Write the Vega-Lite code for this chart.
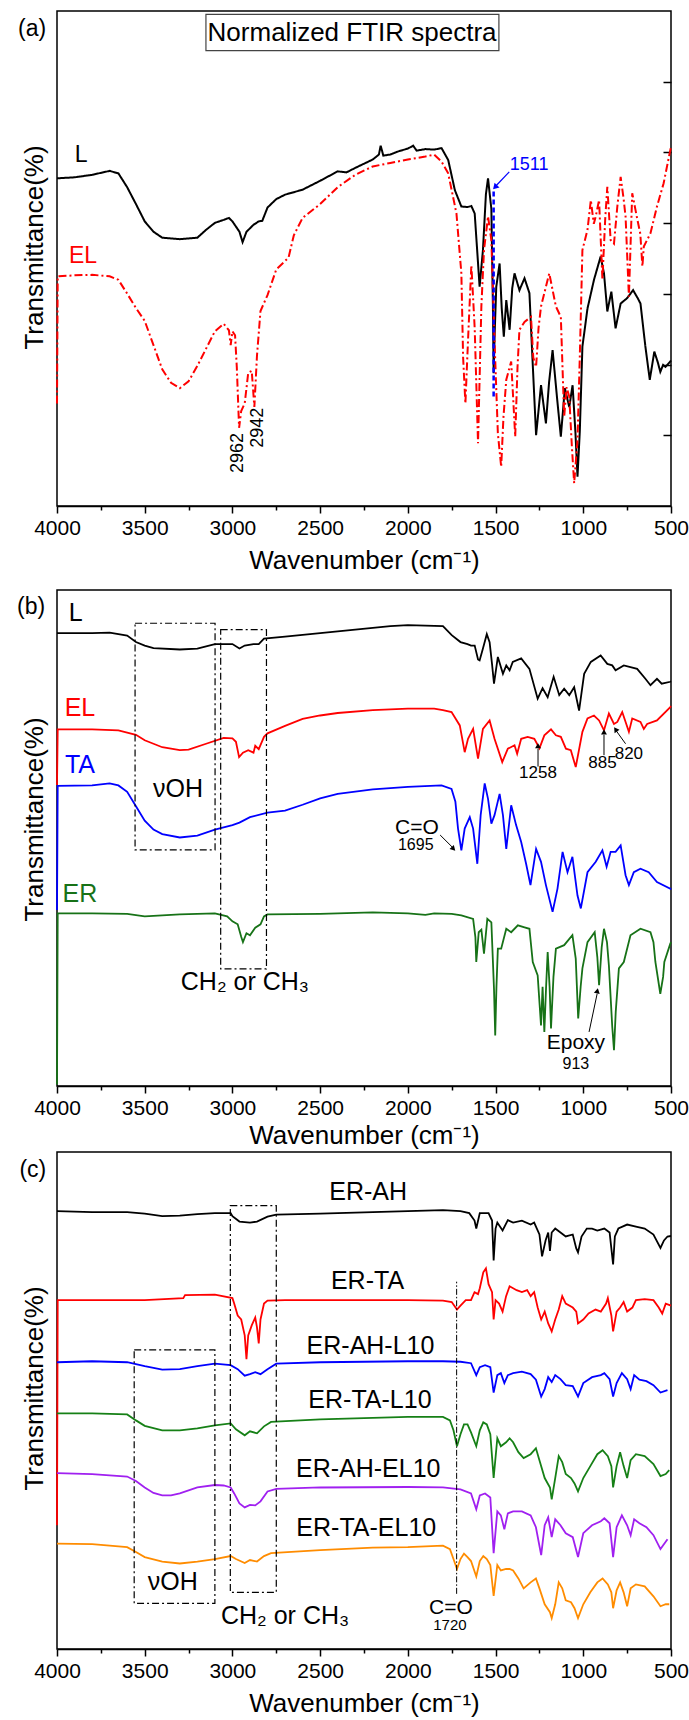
{
"$schema": "https://vega.github.io/schema/vega-lite/v6.json",
"padding": {"left": 16, "top": 10, "right": 0, "bottom": 0},
"background": "white",
"config": {
  "font": "Liberation Sans",
  "axis": {"labelFont": "Liberation Sans", "titleFont": "Liberation Sans", "labelFontSize": 21, "titleFontSize": 26, "titleFontWeight": "normal", "labelColor": "black", "titleColor": "black", "domainColor": "black", "domainWidth": 1.5, "tickColor": "black", "tickWidth": 1.5, "grid": false},
  "view": {"stroke": "black", "strokeWidth": 1.5},
  "text": {"font": "Liberation Sans"}
},
"datasets": {
 "a": [
  {"s":"L","w":4000,"t":66.2},{"s":"L","w":3900,"t":66.4},{"s":"L","w":3800,"t":66.9},{"s":"L","w":3700,"t":67.7},{"s":"L","w":3650,"t":67.2},{"s":"L","w":3600,"t":64.4},{"s":"L","w":3550,"t":61},{"s":"L","w":3500,"t":57.5},{"s":"L","w":3450,"t":55.4},{"s":"L","w":3400,"t":54.2},{"s":"L","w":3300,"t":53.9},{"s":"L","w":3200,"t":54.2},{"s":"L","w":3150,"t":55.8},{"s":"L","w":3100,"t":57.2},{"s":"L","w":3050,"t":57.8},{"s":"L","w":3020,"t":58.2},{"s":"L","w":3000,"t":57.5},{"s":"L","w":2960,"t":55.4},{"s":"L","w":2942,"t":53.3},{"s":"L","w":2920,"t":55.4},{"s":"L","w":2880,"t":56.8},{"s":"L","w":2850,"t":57.5},{"s":"L","w":2830,"t":57.6},{"s":"L","w":2800,"t":60.3},{"s":"L","w":2750,"t":62},{"s":"L","w":2700,"t":62.9},{"s":"L","w":2600,"t":63.9},{"s":"L","w":2500,"t":65.7},{"s":"L","w":2400,"t":67.6},{"s":"L","w":2350,"t":67.4},{"s":"L","w":2300,"t":68.3},{"s":"L","w":2200,"t":70},{"s":"L","w":2165,"t":71},{"s":"L","w":2155,"t":72.8},{"s":"L","w":2140,"t":70.8},{"s":"L","w":2100,"t":71},{"s":"L","w":2050,"t":71.7},{"s":"L","w":2000,"t":72.2},{"s":"L","w":1970,"t":72.8},{"s":"L","w":1950,"t":71.8},{"s":"L","w":1900,"t":72.1},{"s":"L","w":1850,"t":72},{"s":"L","w":1808,"t":72.3},{"s":"L","w":1770,"t":69.9},{"s":"L","w":1732,"t":63.8},{"s":"L","w":1695,"t":60.5},{"s":"L","w":1660,"t":60.4},{"s":"L","w":1638,"t":60.6},{"s":"L","w":1619,"t":59.1},{"s":"L","w":1591,"t":44.3},{"s":"L","w":1572,"t":51.7},{"s":"L","w":1555,"t":63},{"s":"L","w":1543,"t":66.2},{"s":"L","w":1524,"t":60},{"s":"L","w":1515,"t":40},{"s":"L","w":1511,"t":26.8},{"s":"L","w":1505,"t":35},{"s":"L","w":1496,"t":44.3},{"s":"L","w":1477,"t":49},{"s":"L","w":1465,"t":40},{"s":"L","w":1453,"t":34.2},{"s":"L","w":1439,"t":41.6},{"s":"L","w":1420,"t":35.6},{"s":"L","w":1405,"t":44},{"s":"L","w":1392,"t":47},{"s":"L","w":1364,"t":43.6},{"s":"L","w":1335,"t":46},{"s":"L","w":1307,"t":43},{"s":"L","w":1290,"t":30},{"s":"L","w":1269,"t":14.3},{"s":"L","w":1241,"t":24.4},{"s":"L","w":1213,"t":16.7},{"s":"L","w":1195,"t":25},{"s":"L","w":1175,"t":31.5},{"s":"L","w":1150,"t":22},{"s":"L","w":1128,"t":14},{"s":"L","w":1105,"t":23.8},{"s":"L","w":1080,"t":20},{"s":"L","w":1061,"t":24.4},{"s":"L","w":1045,"t":15},{"s":"L","w":1033,"t":5.9},{"s":"L","w":1020,"t":15},{"s":"L","w":1005,"t":32.2},{"s":"L","w":976,"t":39.9},{"s":"L","w":939,"t":45.7},{"s":"L","w":901,"t":50.4},{"s":"L","w":882,"t":47},{"s":"L","w":863,"t":39.3},{"s":"L","w":840,"t":43.3},{"s":"L","w":816,"t":35.9},{"s":"L","w":787,"t":40.9},{"s":"L","w":750,"t":42},{"s":"L","w":716,"t":43.6},{"s":"L","w":690,"t":42},{"s":"L","w":674,"t":40.9},{"s":"L","w":646,"t":32.2},{"s":"L","w":621,"t":25.5},{"s":"L","w":605,"t":29},{"s":"L","w":595,"t":31.2},{"s":"L","w":575,"t":29},{"s":"L","w":561,"t":27.1},{"s":"L","w":545,"t":28.5},{"s":"L","w":532,"t":28.1},{"s":"L","w":504,"t":29.2},{"s":"L","w":500,"t":29.4},
  {"s":"EL","w":4000,"t":20.7},{"s":"EL","w":3996,"t":46.4},{"s":"EL","w":3900,"t":46.6},{"s":"EL","w":3800,"t":46.7},{"s":"EL","w":3700,"t":46.4},{"s":"EL","w":3650,"t":45.7},{"s":"EL","w":3600,"t":42.9},{"s":"EL","w":3550,"t":40},{"s":"EL","w":3500,"t":37.4},{"s":"EL","w":3450,"t":32.5},{"s":"EL","w":3400,"t":27.6},{"s":"EL","w":3350,"t":24.9},{"s":"EL","w":3300,"t":23.8},{"s":"EL","w":3250,"t":25.2},{"s":"EL","w":3200,"t":28.3},{"s":"EL","w":3150,"t":31.8},{"s":"EL","w":3100,"t":35.3},{"s":"EL","w":3050,"t":36.8},{"s":"EL","w":3020,"t":35.5},{"s":"EL","w":3010,"t":32.5},{"s":"EL","w":3000,"t":35.3},{"s":"EL","w":2985,"t":34.5},{"s":"EL","w":2975,"t":28},{"s":"EL","w":2962,"t":15.8},{"s":"EL","w":2950,"t":19.2},{"s":"EL","w":2930,"t":20.7},{"s":"EL","w":2910,"t":26.9},{"s":"EL","w":2890,"t":27.3},{"s":"EL","w":2875,"t":20},{"s":"EL","w":2860,"t":30.4},{"s":"EL","w":2840,"t":39.4},{"s":"EL","w":2800,"t":42.6},{"s":"EL","w":2750,"t":47.8},{"s":"EL","w":2700,"t":49.5},{"s":"EL","w":2680,"t":50.2},{"s":"EL","w":2650,"t":54.7},{"s":"EL","w":2600,"t":58.2},{"s":"EL","w":2500,"t":61},{"s":"EL","w":2400,"t":64.4},{"s":"EL","w":2300,"t":66.9},{"s":"EL","w":2200,"t":68.6},{"s":"EL","w":2100,"t":69.3},{"s":"EL","w":2000,"t":70},{"s":"EL","w":1900,"t":70.6},{"s":"EL","w":1850,"t":71},{"s":"EL","w":1808,"t":69.6},{"s":"EL","w":1770,"t":67.2},{"s":"EL","w":1723,"t":59.1},{"s":"EL","w":1695,"t":47},{"s":"EL","w":1685,"t":30},{"s":"EL","w":1672,"t":20.7},{"s":"EL","w":1657,"t":33.5},{"s":"EL","w":1638,"t":48.7},{"s":"EL","w":1619,"t":35.9},{"s":"EL","w":1600,"t":12.7},{"s":"EL","w":1581,"t":40.3},{"s":"EL","w":1566,"t":51.7},{"s":"EL","w":1543,"t":58.5},{"s":"EL","w":1524,"t":53.7},{"s":"EL","w":1506,"t":33.5},{"s":"EL","w":1487,"t":14.7},{"s":"EL","w":1468,"t":7.9},{"s":"EL","w":1455,"t":18},{"s":"EL","w":1439,"t":25.5},{"s":"EL","w":1411,"t":29.2},{"s":"EL","w":1400,"t":22},{"s":"EL","w":1388,"t":14},{"s":"EL","w":1375,"t":28},{"s":"EL","w":1364,"t":35.6},{"s":"EL","w":1335,"t":37.2},{"s":"EL","w":1298,"t":38.2},{"s":"EL","w":1285,"t":30},{"s":"EL","w":1269,"t":28.1},{"s":"EL","w":1255,"t":36},{"s":"EL","w":1241,"t":40.3},{"s":"EL","w":1194,"t":47},{"s":"EL","w":1156,"t":40.3},{"s":"EL","w":1128,"t":38.2},{"s":"EL","w":1109,"t":18},{"s":"EL","w":1095,"t":24},{"s":"EL","w":1080,"t":22.1},{"s":"EL","w":1065,"t":12},{"s":"EL","w":1052,"t":4.6},{"s":"EL","w":1033,"t":13.3},{"s":"EL","w":1020,"t":30},{"s":"EL","w":1005,"t":51.7},{"s":"EL","w":976,"t":55.8},{"s":"EL","w":957,"t":61.8},{"s":"EL","w":940,"t":57},{"s":"EL","w":929,"t":58.5},{"s":"EL","w":910,"t":61.8},{"s":"EL","w":891,"t":45.7},{"s":"EL","w":875,"t":58},{"s":"EL","w":863,"t":64.5},{"s":"EL","w":844,"t":53.7},{"s":"EL","w":825,"t":53},{"s":"EL","w":806,"t":60.5},{"s":"EL","w":787,"t":66.5},{"s":"EL","w":770,"t":62},{"s":"EL","w":759,"t":58.5},{"s":"EL","w":740,"t":42.3},{"s":"EL","w":721,"t":63.2},{"s":"EL","w":693,"t":58.1},{"s":"EL","w":675,"t":55},{"s":"EL","w":663,"t":48.4},{"s":"EL","w":655,"t":52.4},{"s":"EL","w":617,"t":55.1},{"s":"EL","w":580,"t":60.5},{"s":"EL","w":542,"t":65.2},{"s":"EL","w":504,"t":71.9},{"s":"EL","w":500,"t":72.5}
 ],
 "b": [
  {"s":"L","w":4000,"t":91.3},{"s":"L","w":3800,"t":91.3},{"s":"L","w":3700,"t":91.4},{"s":"L","w":3600,"t":90.8},{"s":"L","w":3550,"t":89.5},{"s":"L","w":3500,"t":88.8},{"s":"L","w":3450,"t":88.3},{"s":"L","w":3300,"t":88},{"s":"L","w":3200,"t":88.2},{"s":"L","w":3100,"t":89.1},{"s":"L","w":3000,"t":89.1},{"s":"L","w":2960,"t":88.2},{"s":"L","w":2930,"t":88.8},{"s":"L","w":2880,"t":89.1},{"s":"L","w":2850,"t":89.1},{"s":"L","w":2820,"t":90.2},{"s":"L","w":2700,"t":90.6},{"s":"L","w":2500,"t":91.3},{"s":"L","w":2300,"t":92},{"s":"L","w":2100,"t":92.7},{"s":"L","w":2000,"t":92.9},{"s":"L","w":1800,"t":92.7},{"s":"L","w":1750,"t":90.9},{"s":"L","w":1700,"t":89.5},{"s":"L","w":1660,"t":89.1},{"s":"L","w":1640,"t":88.8},{"s":"L","w":1619,"t":88.8},{"s":"L","w":1600,"t":86},{"s":"L","w":1591,"t":85.8},{"s":"L","w":1572,"t":88.2},{"s":"L","w":1550,"t":91.1},{"s":"L","w":1534,"t":89.5},{"s":"L","w":1520,"t":85},{"s":"L","w":1509,"t":81.1},{"s":"L","w":1487,"t":86.5},{"s":"L","w":1458,"t":83.1},{"s":"L","w":1439,"t":84.8},{"s":"L","w":1420,"t":83.8},{"s":"L","w":1402,"t":85.5},{"s":"L","w":1354,"t":86.2},{"s":"L","w":1307,"t":84.1},{"s":"L","w":1260,"t":78.1},{"s":"L","w":1232,"t":80.2},{"s":"L","w":1203,"t":78.4},{"s":"L","w":1169,"t":82.5},{"s":"L","w":1137,"t":78.8},{"s":"L","w":1109,"t":80.1},{"s":"L","w":1080,"t":78.8},{"s":"L","w":1052,"t":80.4},{"s":"L","w":1024,"t":75.7},{"s":"L","w":995,"t":83.1},{"s":"L","w":957,"t":85.5},{"s":"L","w":901,"t":86.8},{"s":"L","w":863,"t":85.1},{"s":"L","w":835,"t":84.8},{"s":"L","w":816,"t":83.8},{"s":"L","w":769,"t":84.8},{"s":"L","w":693,"t":84.1},{"s":"L","w":646,"t":82.1},{"s":"L","w":617,"t":80.8},{"s":"L","w":580,"t":82.1},{"s":"L","w":553,"t":81.1},{"s":"L","w":504,"t":81.5},{"s":"L","w":500,"t":81.6},
  {"s":"EL","w":4000,"t":60.7},{"s":"EL","w":3996,"t":71.9},{"s":"EL","w":3800,"t":71.9},{"s":"EL","w":3650,"t":71.7},{"s":"EL","w":3550,"t":70.8},{"s":"EL","w":3500,"t":69.7},{"s":"EL","w":3400,"t":68.3},{"s":"EL","w":3300,"t":67.7},{"s":"EL","w":3250,"t":67.8},{"s":"EL","w":3150,"t":69},{"s":"EL","w":3050,"t":70.2},{"s":"EL","w":3000,"t":70.1},{"s":"EL","w":2980,"t":69.4},{"s":"EL","w":2962,"t":66.3},{"s":"EL","w":2940,"t":67.2},{"s":"EL","w":2910,"t":67.7},{"s":"EL","w":2880,"t":67.2},{"s":"EL","w":2870,"t":68.6},{"s":"EL","w":2850,"t":67.9},{"s":"EL","w":2820,"t":70.4},{"s":"EL","w":2800,"t":71.1},{"s":"EL","w":2700,"t":72.6},{"s":"EL","w":2600,"t":74},{"s":"EL","w":2500,"t":74.7},{"s":"EL","w":2400,"t":75.2},{"s":"EL","w":2200,"t":75.8},{"s":"EL","w":2000,"t":76.1},{"s":"EL","w":1850,"t":76.1},{"s":"EL","w":1800,"t":75.8},{"s":"EL","w":1751,"t":75.4},{"s":"EL","w":1704,"t":72.7},{"s":"EL","w":1676,"t":67.3},{"s":"EL","w":1657,"t":70},{"s":"EL","w":1628,"t":72},{"s":"EL","w":1600,"t":66},{"s":"EL","w":1572,"t":72},{"s":"EL","w":1534,"t":73.7},{"s":"EL","w":1506,"t":70},{"s":"EL","w":1462,"t":65.3},{"s":"EL","w":1430,"t":68},{"s":"EL","w":1392,"t":68.7},{"s":"EL","w":1377,"t":67},{"s":"EL","w":1354,"t":70},{"s":"EL","w":1317,"t":70.4},{"s":"EL","w":1279,"t":70},{"s":"EL","w":1250,"t":68.1},{"s":"EL","w":1222,"t":70.7},{"s":"EL","w":1184,"t":71.9},{"s":"EL","w":1156,"t":70.7},{"s":"EL","w":1128,"t":70.4},{"s":"EL","w":1099,"t":68},{"s":"EL","w":1071,"t":67.7},{"s":"EL","w":1043,"t":64.3},{"s":"EL","w":1005,"t":71.4},{"s":"EL","w":976,"t":74.1},{"s":"EL","w":939,"t":74.7},{"s":"EL","w":910,"t":73.7},{"s":"EL","w":882,"t":71.7},{"s":"EL","w":854,"t":75.1},{"s":"EL","w":825,"t":73},{"s":"EL","w":806,"t":73.4},{"s":"EL","w":778,"t":75.4},{"s":"EL","w":740,"t":71.4},{"s":"EL","w":721,"t":74.1},{"s":"EL","w":674,"t":73.4},{"s":"EL","w":655,"t":72},{"s":"EL","w":636,"t":73},{"s":"EL","w":580,"t":73.7},{"s":"EL","w":504,"t":76.4},{"s":"EL","w":500,"t":76.6},
  {"s":"TA","w":4000,"t":35.5},{"s":"TA","w":3996,"t":60.5},{"s":"TA","w":3800,"t":60.6},{"s":"TA","w":3700,"t":61},{"s":"TA","w":3650,"t":60.6},{"s":"TA","w":3600,"t":59.3},{"s":"TA","w":3550,"t":56.4},{"s":"TA","w":3500,"t":53.5},{"s":"TA","w":3450,"t":51.7},{"s":"TA","w":3400,"t":50.8},{"s":"TA","w":3300,"t":50.1},{"s":"TA","w":3200,"t":50.5},{"s":"TA","w":3100,"t":51.7},{"s":"TA","w":3000,"t":52.6},{"s":"TA","w":2960,"t":53.1},{"s":"TA","w":2900,"t":54.2},{"s":"TA","w":2800,"t":55.1},{"s":"TA","w":2700,"t":55.5},{"s":"TA","w":2600,"t":56.7},{"s":"TA","w":2500,"t":58},{"s":"TA","w":2400,"t":58.9},{"s":"TA","w":2200,"t":59.8},{"s":"TA","w":2000,"t":60.3},{"s":"TA","w":1808,"t":60.6},{"s":"TA","w":1751,"t":59.9},{"s":"TA","w":1729,"t":57.3},{"s":"TA","w":1714,"t":51.9},{"s":"TA","w":1695,"t":47.5},{"s":"TA","w":1676,"t":51.9},{"s":"TA","w":1647,"t":54.2},{"s":"TA","w":1628,"t":51.9},{"s":"TA","w":1604,"t":44.8},{"s":"TA","w":1585,"t":54.6},{"s":"TA","w":1562,"t":61},{"s":"TA","w":1543,"t":57.9},{"s":"TA","w":1524,"t":52.9},{"s":"TA","w":1506,"t":54.6},{"s":"TA","w":1477,"t":58.9},{"s":"TA","w":1458,"t":54.6},{"s":"TA","w":1439,"t":47.8},{"s":"TA","w":1411,"t":56.6},{"s":"TA","w":1383,"t":52.6},{"s":"TA","w":1354,"t":49.2},{"s":"TA","w":1326,"t":44.8},{"s":"TA","w":1301,"t":40.5},{"s":"TA","w":1269,"t":47.8},{"s":"TA","w":1241,"t":45.2},{"s":"TA","w":1213,"t":40.5},{"s":"TA","w":1175,"t":35.1},{"s":"TA","w":1147,"t":39.8},{"s":"TA","w":1118,"t":47.2},{"s":"TA","w":1090,"t":43.1},{"s":"TA","w":1062,"t":46.2},{"s":"TA","w":1033,"t":38.4},{"s":"TA","w":1014,"t":35.8},{"s":"TA","w":976,"t":43.1},{"s":"TA","w":929,"t":45.2},{"s":"TA","w":891,"t":47.5},{"s":"TA","w":867,"t":44.2},{"s":"TA","w":844,"t":47.2},{"s":"TA","w":816,"t":47.2},{"s":"TA","w":787,"t":48.5},{"s":"TA","w":759,"t":42.5},{"s":"TA","w":740,"t":40.5},{"s":"TA","w":712,"t":43.1},{"s":"TA","w":674,"t":43.8},{"s":"TA","w":627,"t":43.1},{"s":"TA","w":580,"t":41.1},{"s":"TA","w":504,"t":39.8},{"s":"TA","w":500,"t":39.6},
  {"s":"ER","w":4000,"t":0.3},{"s":"ER","w":3996,"t":34.8},{"s":"ER","w":3800,"t":34.8},{"s":"ER","w":3600,"t":34.7},{"s":"ER","w":3500,"t":34.2},{"s":"ER","w":3400,"t":34.4},{"s":"ER","w":3300,"t":34.6},{"s":"ER","w":3100,"t":34.8},{"s":"ER","w":3030,"t":34.2},{"s":"ER","w":3000,"t":33.2},{"s":"ER","w":2970,"t":32.6},{"s":"ER","w":2950,"t":30.1},{"s":"ER","w":2940,"t":29},{"s":"ER","w":2920,"t":30.8},{"s":"ER","w":2900,"t":30.4},{"s":"ER","w":2870,"t":31.9},{"s":"ER","w":2840,"t":32.6},{"s":"ER","w":2820,"t":34.2},{"s":"ER","w":2800,"t":34.6},{"s":"ER","w":2500,"t":34.7},{"s":"ER","w":2200,"t":35},{"s":"ER","w":2000,"t":34.8},{"s":"ER","w":1900,"t":34.5},{"s":"ER","w":1850,"t":34.8},{"s":"ER","w":1750,"t":34.7},{"s":"ER","w":1695,"t":34.4},{"s":"ER","w":1628,"t":33.7},{"s":"ER","w":1615,"t":30},{"s":"ER","w":1610,"t":25},{"s":"ER","w":1596,"t":31},{"s":"ER","w":1581,"t":31.5},{"s":"ER","w":1566,"t":26.7},{"s":"ER","w":1547,"t":33.7},{"s":"ER","w":1524,"t":33},{"s":"ER","w":1509,"t":19.6},{"s":"ER","w":1502,"t":10.2},{"s":"ER","w":1495,"t":20},{"s":"ER","w":1487,"t":27.7},{"s":"ER","w":1468,"t":27.7},{"s":"ER","w":1439,"t":31.7},{"s":"ER","w":1411,"t":31},{"s":"ER","w":1373,"t":32.4},{"s":"ER","w":1335,"t":32},{"s":"ER","w":1307,"t":31.7},{"s":"ER","w":1288,"t":25},{"s":"ER","w":1260,"t":22.3},{"s":"ER","w":1241,"t":12.2},{"s":"ER","w":1232,"t":20},{"s":"ER","w":1222,"t":10.9},{"s":"ER","w":1212,"t":20},{"s":"ER","w":1203,"t":27},{"s":"ER","w":1192,"t":20},{"s":"ER","w":1184,"t":11.6},{"s":"ER","w":1170,"t":22},{"s":"ER","w":1156,"t":27.7},{"s":"ER","w":1109,"t":28.4},{"s":"ER","w":1062,"t":30.4},{"s":"ER","w":1043,"t":25.7},{"s":"ER","w":1029,"t":13.6},{"s":"ER","w":1015,"t":20},{"s":"ER","w":1005,"t":23.7},{"s":"ER","w":976,"t":29},{"s":"ER","w":935,"t":31},{"s":"ER","w":920,"t":26},{"s":"ER","w":910,"t":20.3},{"s":"ER","w":895,"t":28},{"s":"ER","w":882,"t":31.7},{"s":"ER","w":865,"t":29},{"s":"ER","w":854,"t":24.3},{"s":"ER","w":835,"t":12},{"s":"ER","w":825,"t":7.2},{"s":"ER","w":815,"t":15},{"s":"ER","w":797,"t":23.7},{"s":"ER","w":769,"t":25},{"s":"ER","w":731,"t":30.4},{"s":"ER","w":674,"t":31.7},{"s":"ER","w":617,"t":31},{"s":"ER","w":600,"t":29},{"s":"ER","w":589,"t":25},{"s":"ER","w":561,"t":18.6},{"s":"ER","w":545,"t":22},{"s":"ER","w":538,"t":25},{"s":"ER","w":504,"t":28.7},{"s":"ER","w":500,"t":29}
 ],
 "c": [
  {"s":"ER-AH","w":4000,"t":88.1},{"s":"ER-AH","w":3800,"t":87.9},{"s":"ER-AH","w":3600,"t":87.9},{"s":"ER-AH","w":3500,"t":87.6},{"s":"ER-AH","w":3400,"t":87.1},{"s":"ER-AH","w":3300,"t":87.2},{"s":"ER-AH","w":3200,"t":87.5},{"s":"ER-AH","w":3100,"t":87.7},{"s":"ER-AH","w":3010,"t":87.7},{"s":"ER-AH","w":3000,"t":87.1},{"s":"ER-AH","w":2960,"t":86},{"s":"ER-AH","w":2900,"t":85.8},{"s":"ER-AH","w":2860,"t":86},{"s":"ER-AH","w":2800,"t":87},{"s":"ER-AH","w":2750,"t":87.4},{"s":"ER-AH","w":2500,"t":87.6},{"s":"ER-AH","w":2200,"t":87.9},{"s":"ER-AH","w":2000,"t":88.1},{"s":"ER-AH","w":1800,"t":88.3},{"s":"ER-AH","w":1700,"t":88.1},{"s":"ER-AH","w":1650,"t":87.7},{"s":"ER-AH","w":1620,"t":86.2},{"s":"ER-AH","w":1610,"t":84.6},{"s":"ER-AH","w":1590,"t":87.7},{"s":"ER-AH","w":1540,"t":87.7},{"s":"ER-AH","w":1520,"t":86.2},{"s":"ER-AH","w":1511,"t":78.2},{"s":"ER-AH","w":1500,"t":84.6},{"s":"ER-AH","w":1490,"t":85.8},{"s":"ER-AH","w":1460,"t":84.2},{"s":"ER-AH","w":1430,"t":86.3},{"s":"ER-AH","w":1400,"t":85.8},{"s":"ER-AH","w":1350,"t":86.2},{"s":"ER-AH","w":1300,"t":85.4},{"s":"ER-AH","w":1280,"t":85.8},{"s":"ER-AH","w":1250,"t":83.4},{"s":"ER-AH","w":1235,"t":79},{"s":"ER-AH","w":1215,"t":82.2},{"s":"ER-AH","w":1200,"t":83.8},{"s":"ER-AH","w":1190,"t":80.1},{"s":"ER-AH","w":1180,"t":83.8},{"s":"ER-AH","w":1160,"t":84.6},{"s":"ER-AH","w":1130,"t":83.8},{"s":"ER-AH","w":1100,"t":83},{"s":"ER-AH","w":1060,"t":83.4},{"s":"ER-AH","w":1040,"t":80.6},{"s":"ER-AH","w":1030,"t":79.8},{"s":"ER-AH","w":1010,"t":83},{"s":"ER-AH","w":980,"t":84.6},{"s":"ER-AH","w":950,"t":84.6},{"s":"ER-AH","w":920,"t":84.2},{"s":"ER-AH","w":880,"t":84.6},{"s":"ER-AH","w":850,"t":83.8},{"s":"ER-AH","w":830,"t":77.4},{"s":"ER-AH","w":820,"t":83},{"s":"ER-AH","w":800,"t":84.6},{"s":"ER-AH","w":750,"t":85.4},{"s":"ER-AH","w":700,"t":85},{"s":"ER-AH","w":650,"t":84.6},{"s":"ER-AH","w":600,"t":83.4},{"s":"ER-AH","w":560,"t":80.7},{"s":"ER-AH","w":540,"t":82.2},{"s":"ER-AH","w":520,"t":83},{"s":"ER-AH","w":500,"t":83.1},
  {"s":"ER-TA","w":4000,"t":24.9},{"s":"ER-TA","w":3996,"t":70.2},{"s":"ER-TA","w":3800,"t":70.2},{"s":"ER-TA","w":3600,"t":70.2},{"s":"ER-TA","w":3500,"t":70.2},{"s":"ER-TA","w":3280,"t":70.6},{"s":"ER-TA","w":3270,"t":71.2},{"s":"ER-TA","w":3100,"t":71.3},{"s":"ER-TA","w":3000,"t":70.6},{"s":"ER-TA","w":2990,"t":69.5},{"s":"ER-TA","w":2970,"t":67.1},{"s":"ER-TA","w":2950,"t":66.3},{"s":"ER-TA","w":2930,"t":63.1},{"s":"ER-TA","w":2920,"t":58.3},{"s":"ER-TA","w":2910,"t":63.1},{"s":"ER-TA","w":2890,"t":65.1},{"s":"ER-TA","w":2870,"t":66.7},{"s":"ER-TA","w":2860,"t":64.7},{"s":"ER-TA","w":2850,"t":61.5},{"s":"ER-TA","w":2840,"t":66.3},{"s":"ER-TA","w":2820,"t":69.5},{"s":"ER-TA","w":2800,"t":70.1},{"s":"ER-TA","w":2700,"t":70.2},{"s":"ER-TA","w":2500,"t":70.2},{"s":"ER-TA","w":2000,"t":70.2},{"s":"ER-TA","w":1800,"t":70.1},{"s":"ER-TA","w":1750,"t":69.8},{"s":"ER-TA","w":1720,"t":68.3},{"s":"ER-TA","w":1700,"t":69.1},{"s":"ER-TA","w":1670,"t":70.2},{"s":"ER-TA","w":1640,"t":70.2},{"s":"ER-TA","w":1620,"t":71.8},{"s":"ER-TA","w":1600,"t":71.4},{"s":"ER-TA","w":1590,"t":72.6},{"s":"ER-TA","w":1570,"t":75.8},{"s":"ER-TA","w":1555,"t":76.6},{"s":"ER-TA","w":1540,"t":73.4},{"s":"ER-TA","w":1520,"t":71.8},{"s":"ER-TA","w":1511,"t":66.3},{"s":"ER-TA","w":1500,"t":70.2},{"s":"ER-TA","w":1480,"t":69.5},{"s":"ER-TA","w":1460,"t":67.9},{"s":"ER-TA","w":1440,"t":71},{"s":"ER-TA","w":1420,"t":73},{"s":"ER-TA","w":1380,"t":72.2},{"s":"ER-TA","w":1350,"t":71.8},{"s":"ER-TA","w":1320,"t":72.2},{"s":"ER-TA","w":1300,"t":71},{"s":"ER-TA","w":1280,"t":71.8},{"s":"ER-TA","w":1260,"t":68.7},{"s":"ER-TA","w":1240,"t":66.3},{"s":"ER-TA","w":1220,"t":67.9},{"s":"ER-TA","w":1200,"t":65.5},{"s":"ER-TA","w":1180,"t":63.9},{"s":"ER-TA","w":1160,"t":66.3},{"s":"ER-TA","w":1140,"t":68.3},{"s":"ER-TA","w":1120,"t":71},{"s":"ER-TA","w":1100,"t":69.5},{"s":"ER-TA","w":1060,"t":68.7},{"s":"ER-TA","w":1040,"t":67.9},{"s":"ER-TA","w":1030,"t":65.5},{"s":"ER-TA","w":1000,"t":66.3},{"s":"ER-TA","w":970,"t":67.5},{"s":"ER-TA","w":930,"t":68.3},{"s":"ER-TA","w":900,"t":67.9},{"s":"ER-TA","w":870,"t":69.5},{"s":"ER-TA","w":860,"t":70.6},{"s":"ER-TA","w":840,"t":67.1},{"s":"ER-TA","w":830,"t":63.9},{"s":"ER-TA","w":810,"t":67.9},{"s":"ER-TA","w":790,"t":68.7},{"s":"ER-TA","w":770,"t":69.8},{"s":"ER-TA","w":750,"t":67.9},{"s":"ER-TA","w":720,"t":68.7},{"s":"ER-TA","w":700,"t":70.2},{"s":"ER-TA","w":650,"t":70.4},{"s":"ER-TA","w":600,"t":70.2},{"s":"ER-TA","w":570,"t":68.7},{"s":"ER-TA","w":550,"t":67.5},{"s":"ER-TA","w":530,"t":69.5},{"s":"ER-TA","w":500,"t":69.1},
  {"s":"ER-AH-L10","w":4000,"t":57.7},{"s":"ER-AH-L10","w":3800,"t":57.9},{"s":"ER-AH-L10","w":3600,"t":57.7},{"s":"ER-AH-L10","w":3500,"t":56.9},{"s":"ER-AH-L10","w":3400,"t":56.2},{"s":"ER-AH-L10","w":3300,"t":56.3},{"s":"ER-AH-L10","w":3200,"t":56.9},{"s":"ER-AH-L10","w":3100,"t":57.4},{"s":"ER-AH-L10","w":3010,"t":57.1},{"s":"ER-AH-L10","w":2970,"t":56.3},{"s":"ER-AH-L10","w":2930,"t":55},{"s":"ER-AH-L10","w":2900,"t":55.3},{"s":"ER-AH-L10","w":2870,"t":55.7},{"s":"ER-AH-L10","w":2840,"t":55.3},{"s":"ER-AH-L10","w":2800,"t":56.3},{"s":"ER-AH-L10","w":2750,"t":57.4},{"s":"ER-AH-L10","w":2500,"t":57.7},{"s":"ER-AH-L10","w":2000,"t":57.9},{"s":"ER-AH-L10","w":1800,"t":57.9},{"s":"ER-AH-L10","w":1700,"t":57.8},{"s":"ER-AH-L10","w":1640,"t":57.5},{"s":"ER-AH-L10","w":1610,"t":55.1},{"s":"ER-AH-L10","w":1590,"t":56.7},{"s":"ER-AH-L10","w":1560,"t":57.1},{"s":"ER-AH-L10","w":1530,"t":56.7},{"s":"ER-AH-L10","w":1511,"t":51.6},{"s":"ER-AH-L10","w":1490,"t":55.1},{"s":"ER-AH-L10","w":1470,"t":55.5},{"s":"ER-AH-L10","w":1450,"t":53.5},{"s":"ER-AH-L10","w":1430,"t":55.1},{"s":"ER-AH-L10","w":1400,"t":55.5},{"s":"ER-AH-L10","w":1350,"t":55.8},{"s":"ER-AH-L10","w":1300,"t":55.3},{"s":"ER-AH-L10","w":1270,"t":54.2},{"s":"ER-AH-L10","w":1240,"t":50.8},{"s":"ER-AH-L10","w":1220,"t":52.3},{"s":"ER-AH-L10","w":1200,"t":54.7},{"s":"ER-AH-L10","w":1180,"t":53.7},{"s":"ER-AH-L10","w":1160,"t":55.1},{"s":"ER-AH-L10","w":1130,"t":54.3},{"s":"ER-AH-L10","w":1100,"t":53.1},{"s":"ER-AH-L10","w":1060,"t":52.9},{"s":"ER-AH-L10","w":1030,"t":50.8},{"s":"ER-AH-L10","w":1000,"t":53.5},{"s":"ER-AH-L10","w":950,"t":54.7},{"s":"ER-AH-L10","w":900,"t":55.1},{"s":"ER-AH-L10","w":880,"t":55.5},{"s":"ER-AH-L10","w":850,"t":54.3},{"s":"ER-AH-L10","w":830,"t":50.8},{"s":"ER-AH-L10","w":810,"t":53.5},{"s":"ER-AH-L10","w":780,"t":55.5},{"s":"ER-AH-L10","w":750,"t":54.3},{"s":"ER-AH-L10","w":730,"t":52.3},{"s":"ER-AH-L10","w":710,"t":55.1},{"s":"ER-AH-L10","w":680,"t":54.2},{"s":"ER-AH-L10","w":640,"t":53.9},{"s":"ER-AH-L10","w":600,"t":53.1},{"s":"ER-AH-L10","w":560,"t":51.6},{"s":"ER-AH-L10","w":520,"t":52.1},
  {"s":"ER-TA-L10","w":4000,"t":47.4},{"s":"ER-TA-L10","w":3800,"t":47.4},{"s":"ER-TA-L10","w":3600,"t":47.2},{"s":"ER-TA-L10","w":3550,"t":46},{"s":"ER-TA-L10","w":3500,"t":44.9},{"s":"ER-TA-L10","w":3400,"t":44},{"s":"ER-TA-L10","w":3300,"t":44},{"s":"ER-TA-L10","w":3200,"t":44.4},{"s":"ER-TA-L10","w":3100,"t":45},{"s":"ER-TA-L10","w":3010,"t":45.4},{"s":"ER-TA-L10","w":2980,"t":44.2},{"s":"ER-TA-L10","w":2930,"t":43},{"s":"ER-TA-L10","w":2900,"t":43.8},{"s":"ER-TA-L10","w":2860,"t":43.4},{"s":"ER-TA-L10","w":2820,"t":44.8},{"s":"ER-TA-L10","w":2780,"t":45.7},{"s":"ER-TA-L10","w":2500,"t":46.2},{"s":"ER-TA-L10","w":2200,"t":46.5},{"s":"ER-TA-L10","w":2000,"t":46.7},{"s":"ER-TA-L10","w":1800,"t":46.7},{"s":"ER-TA-L10","w":1760,"t":46},{"s":"ER-TA-L10","w":1740,"t":44},{"s":"ER-TA-L10","w":1720,"t":40.8},{"s":"ER-TA-L10","w":1700,"t":43.2},{"s":"ER-TA-L10","w":1680,"t":45.2},{"s":"ER-TA-L10","w":1660,"t":45.2},{"s":"ER-TA-L10","w":1640,"t":43.6},{"s":"ER-TA-L10","w":1610,"t":40.8},{"s":"ER-TA-L10","w":1590,"t":44},{"s":"ER-TA-L10","w":1570,"t":45.6},{"s":"ER-TA-L10","w":1550,"t":45.2},{"s":"ER-TA-L10","w":1530,"t":43.2},{"s":"ER-TA-L10","w":1511,"t":34.4},{"s":"ER-TA-L10","w":1490,"t":42.4},{"s":"ER-TA-L10","w":1470,"t":40.8},{"s":"ER-TA-L10","w":1440,"t":41.6},{"s":"ER-TA-L10","w":1420,"t":42.4},{"s":"ER-TA-L10","w":1400,"t":41.6},{"s":"ER-TA-L10","w":1370,"t":39.6},{"s":"ER-TA-L10","w":1340,"t":38.4},{"s":"ER-TA-L10","w":1300,"t":39.2},{"s":"ER-TA-L10","w":1270,"t":40.4},{"s":"ER-TA-L10","w":1250,"t":38},{"s":"ER-TA-L10","w":1220,"t":34.4},{"s":"ER-TA-L10","w":1190,"t":32.5},{"s":"ER-TA-L10","w":1180,"t":30.1},{"s":"ER-TA-L10","w":1160,"t":34.4},{"s":"ER-TA-L10","w":1140,"t":38.8},{"s":"ER-TA-L10","w":1120,"t":37.6},{"s":"ER-TA-L10","w":1100,"t":35.2},{"s":"ER-TA-L10","w":1070,"t":34.4},{"s":"ER-TA-L10","w":1050,"t":33.3},{"s":"ER-TA-L10","w":1030,"t":31.7},{"s":"ER-TA-L10","w":1000,"t":34.4},{"s":"ER-TA-L10","w":960,"t":36.8},{"s":"ER-TA-L10","w":920,"t":39.2},{"s":"ER-TA-L10","w":890,"t":40},{"s":"ER-TA-L10","w":860,"t":38.8},{"s":"ER-TA-L10","w":840,"t":36.8},{"s":"ER-TA-L10","w":830,"t":32.5},{"s":"ER-TA-L10","w":810,"t":36.8},{"s":"ER-TA-L10","w":790,"t":39.6},{"s":"ER-TA-L10","w":770,"t":36.8},{"s":"ER-TA-L10","w":750,"t":34.4},{"s":"ER-TA-L10","w":730,"t":38},{"s":"ER-TA-L10","w":700,"t":39.2},{"s":"ER-TA-L10","w":650,"t":38.8},{"s":"ER-TA-L10","w":600,"t":37.2},{"s":"ER-TA-L10","w":560,"t":34.8},{"s":"ER-TA-L10","w":530,"t":35.2},{"s":"ER-TA-L10","w":510,"t":36},
  {"s":"ER-AH-EL10","w":4000,"t":35.4},{"s":"ER-AH-EL10","w":3800,"t":35.2},{"s":"ER-AH-EL10","w":3600,"t":34.7},{"s":"ER-AH-EL10","w":3550,"t":33.8},{"s":"ER-AH-EL10","w":3500,"t":32.5},{"s":"ER-AH-EL10","w":3450,"t":31.4},{"s":"ER-AH-EL10","w":3400,"t":30.9},{"s":"ER-AH-EL10","w":3350,"t":30.9},{"s":"ER-AH-EL10","w":3300,"t":31.3},{"s":"ER-AH-EL10","w":3200,"t":32.5},{"s":"ER-AH-EL10","w":3100,"t":33},{"s":"ER-AH-EL10","w":3050,"t":32.9},{"s":"ER-AH-EL10","w":3010,"t":32.5},{"s":"ER-AH-EL10","w":2990,"t":31.3},{"s":"ER-AH-EL10","w":2960,"t":29.3},{"s":"ER-AH-EL10","w":2930,"t":28.5},{"s":"ER-AH-EL10","w":2900,"t":29},{"s":"ER-AH-EL10","w":2870,"t":28.9},{"s":"ER-AH-EL10","w":2840,"t":29.7},{"s":"ER-AH-EL10","w":2800,"t":31.7},{"s":"ER-AH-EL10","w":2750,"t":32.2},{"s":"ER-AH-EL10","w":2500,"t":32.5},{"s":"ER-AH-EL10","w":2000,"t":32.6},{"s":"ER-AH-EL10","w":1800,"t":32.5},{"s":"ER-AH-EL10","w":1700,"t":32.1},{"s":"ER-AH-EL10","w":1640,"t":31.3},{"s":"ER-AH-EL10","w":1610,"t":28.1},{"s":"ER-AH-EL10","w":1590,"t":30.9},{"s":"ER-AH-EL10","w":1560,"t":31.3},{"s":"ER-AH-EL10","w":1530,"t":30.5},{"s":"ER-AH-EL10","w":1511,"t":19.3},{"s":"ER-AH-EL10","w":1490,"t":27.7},{"s":"ER-AH-EL10","w":1470,"t":26.9},{"s":"ER-AH-EL10","w":1450,"t":24.1},{"s":"ER-AH-EL10","w":1430,"t":27.3},{"s":"ER-AH-EL10","w":1400,"t":27.7},{"s":"ER-AH-EL10","w":1350,"t":27.7},{"s":"ER-AH-EL10","w":1300,"t":26.9},{"s":"ER-AH-EL10","w":1270,"t":24.5},{"s":"ER-AH-EL10","w":1240,"t":18.9},{"s":"ER-AH-EL10","w":1220,"t":24.9},{"s":"ER-AH-EL10","w":1200,"t":26.5},{"s":"ER-AH-EL10","w":1180,"t":22.5},{"s":"ER-AH-EL10","w":1160,"t":26.1},{"s":"ER-AH-EL10","w":1130,"t":24.9},{"s":"ER-AH-EL10","w":1100,"t":23.3},{"s":"ER-AH-EL10","w":1060,"t":22.5},{"s":"ER-AH-EL10","w":1030,"t":18.5},{"s":"ER-AH-EL10","w":1000,"t":23.3},{"s":"ER-AH-EL10","w":950,"t":24.9},{"s":"ER-AH-EL10","w":900,"t":25.7},{"s":"ER-AH-EL10","w":880,"t":26.3},{"s":"ER-AH-EL10","w":850,"t":25.3},{"s":"ER-AH-EL10","w":830,"t":18.5},{"s":"ER-AH-EL10","w":810,"t":24.5},{"s":"ER-AH-EL10","w":780,"t":26.9},{"s":"ER-AH-EL10","w":750,"t":24.9},{"s":"ER-AH-EL10","w":730,"t":22.9},{"s":"ER-AH-EL10","w":710,"t":26.1},{"s":"ER-AH-EL10","w":680,"t":25.3},{"s":"ER-AH-EL10","w":640,"t":24.5},{"s":"ER-AH-EL10","w":600,"t":22.9},{"s":"ER-AH-EL10","w":560,"t":20.1},{"s":"ER-AH-EL10","w":520,"t":22.1},
  {"s":"ER-TA-EL10","w":4000,"t":21.2},{"s":"ER-TA-EL10","w":3800,"t":21.1},{"s":"ER-TA-EL10","w":3600,"t":20.5},{"s":"ER-TA-EL10","w":3550,"t":19.5},{"s":"ER-TA-EL10","w":3500,"t":18.5},{"s":"ER-TA-EL10","w":3400,"t":17.6},{"s":"ER-TA-EL10","w":3300,"t":17.2},{"s":"ER-TA-EL10","w":3200,"t":17.6},{"s":"ER-TA-EL10","w":3100,"t":18.1},{"s":"ER-TA-EL10","w":3010,"t":18.7},{"s":"ER-TA-EL10","w":2980,"t":18.1},{"s":"ER-TA-EL10","w":2930,"t":17.3},{"s":"ER-TA-EL10","w":2900,"t":17.9},{"s":"ER-TA-EL10","w":2860,"t":17.6},{"s":"ER-TA-EL10","w":2820,"t":18.7},{"s":"ER-TA-EL10","w":2780,"t":19.3},{"s":"ER-TA-EL10","w":2500,"t":19.9},{"s":"ER-TA-EL10","w":2200,"t":20.4},{"s":"ER-TA-EL10","w":2000,"t":20.5},{"s":"ER-TA-EL10","w":1800,"t":20.8},{"s":"ER-TA-EL10","w":1760,"t":20.1},{"s":"ER-TA-EL10","w":1740,"t":18.1},{"s":"ER-TA-EL10","w":1720,"t":16.1},{"s":"ER-TA-EL10","w":1700,"t":18.1},{"s":"ER-TA-EL10","w":1680,"t":19.2},{"s":"ER-TA-EL10","w":1660,"t":18.5},{"s":"ER-TA-EL10","w":1640,"t":17.7},{"s":"ER-TA-EL10","w":1610,"t":14.6},{"s":"ER-TA-EL10","w":1590,"t":17.7},{"s":"ER-TA-EL10","w":1570,"t":18.7},{"s":"ER-TA-EL10","w":1550,"t":18.1},{"s":"ER-TA-EL10","w":1530,"t":16.9},{"s":"ER-TA-EL10","w":1511,"t":10.7},{"s":"ER-TA-EL10","w":1490,"t":16.9},{"s":"ER-TA-EL10","w":1470,"t":15.8},{"s":"ER-TA-EL10","w":1440,"t":16.1},{"s":"ER-TA-EL10","w":1420,"t":16.1},{"s":"ER-TA-EL10","w":1400,"t":15.8},{"s":"ER-TA-EL10","w":1370,"t":14.2},{"s":"ER-TA-EL10","w":1340,"t":12.2},{"s":"ER-TA-EL10","w":1300,"t":13.4},{"s":"ER-TA-EL10","w":1270,"t":14.2},{"s":"ER-TA-EL10","w":1250,"t":12.2},{"s":"ER-TA-EL10","w":1220,"t":9},{"s":"ER-TA-EL10","w":1190,"t":7.4},{"s":"ER-TA-EL10","w":1180,"t":6.2},{"s":"ER-TA-EL10","w":1160,"t":9},{"s":"ER-TA-EL10","w":1140,"t":13.4},{"s":"ER-TA-EL10","w":1120,"t":12.2},{"s":"ER-TA-EL10","w":1100,"t":9.8},{"s":"ER-TA-EL10","w":1070,"t":9.4},{"s":"ER-TA-EL10","w":1050,"t":8.2},{"s":"ER-TA-EL10","w":1030,"t":6.2},{"s":"ER-TA-EL10","w":1000,"t":9},{"s":"ER-TA-EL10","w":960,"t":11.4},{"s":"ER-TA-EL10","w":920,"t":13.4},{"s":"ER-TA-EL10","w":890,"t":14.2},{"s":"ER-TA-EL10","w":860,"t":13},{"s":"ER-TA-EL10","w":840,"t":11.4},{"s":"ER-TA-EL10","w":830,"t":8.2},{"s":"ER-TA-EL10","w":810,"t":11.8},{"s":"ER-TA-EL10","w":790,"t":13.4},{"s":"ER-TA-EL10","w":770,"t":11.4},{"s":"ER-TA-EL10","w":750,"t":8.6},{"s":"ER-TA-EL10","w":730,"t":12.2},{"s":"ER-TA-EL10","w":700,"t":13},{"s":"ER-TA-EL10","w":650,"t":12.6},{"s":"ER-TA-EL10","w":600,"t":10.6},{"s":"ER-TA-EL10","w":560,"t":8.6},{"s":"ER-TA-EL10","w":530,"t":9},{"s":"ER-TA-EL10","w":510,"t":9}
 ]
},
"spacing": 15,
"resolve": {"scale": {"color": "independent", "strokeDash": "independent"}},
"vconcat": [
 {
  "width": 614, "height": 495,
  "resolve": {"axis": {"y": "independent"}},
  "layer": [
   {
    "encoding": {
     "x": {"field": "w", "type": "quantitative", "scale": {"domain": [500, 4000], "reverse": true, "nice": false, "zero": false}, "axis": {"values": [4000,3750,3500,3250,3000,2750,2500,2250,2000,1750,1500,1250,1000,750,500], "format": "d", "labelExpr": "datum.value % 500 === 0 ? datum.label : ''", "tickSize": {"condition": {"test": "datum.value % 500 === 0", "value": 7}, "value": 4}, "labelFlush": false, "labelOverlap": false, "labelPadding": 4, "title": "Wavenumber (cm⁻¹)", "titlePadding": 9}},
     "y": {"field": "t", "type": "quantitative", "scale": {"domain": [0, 100], "nice": false, "zero": false}, "axis": {"labels": false, "ticks": false, "domain": false, "title": "Transmittance(%)", "titlePadding": 10, "titleY": 236}}
    },
    "layer": [
     {"data": {"name": "a"}, "mark": {"type": "line", "strokeWidth": 2},
      "encoding": {"color": {"field": "s", "type": "nominal", "scale": {"domain": ["L", "EL"], "range": ["black", "#ff0000"]}, "legend": null},
       "strokeDash": {"field": "s", "type": "nominal", "scale": {"domain": ["L", "EL"], "range": [[1, 0], [8, 3, 2, 3]]}, "legend": null}}},
     {"data": {"values": [{"w": 3151, "w2": 1481, "t": 99.3, "t2": 92}]}, "mark": {"type": "rect", "fillOpacity": 0, "stroke": "#444", "strokeWidth": 1.2}, "encoding": {"x2": {"field": "w2"}, "y2": {"field": "t2"}}},
     {"data": {"values": [{"w": 2318, "t": 95.6, "txt": "Normalized FTIR spectra"}]}, "mark": {"type": "text", "fontSize": 26, "color": "black"}, "encoding": {"text": {"field": "txt"}}},
     {"data": {"values": [{"w": 4142, "t": 96.4, "txt": "(a)"}, {"w": 3863, "t": 70.9, "txt": "L"}]}, "mark": {"type": "text", "fontSize": 23, "color": "black"}, "encoding": {"text": {"field": "txt"}}},
     {"data": {"values": [{"w": 3852, "t": 50.5, "txt": "EL"}]}, "mark": {"type": "text", "fontSize": 23, "color": "#ff0000"}, "encoding": {"text": {"field": "txt"}}},
     {"data": {"values": [{"w": 2968, "t": 10.7, "txt": "2962"}, {"w": 2854, "t": 15.8, "txt": "2942"}]}, "mark": {"type": "text", "fontSize": 18, "color": "black", "angle": 270}, "encoding": {"text": {"field": "txt"}}},
     {"data": {"values": [{"w": 1511, "t": 22.1, "t2": 63.8}]}, "mark": {"type": "rule", "color": "#0000ff", "strokeWidth": 2.5, "strokeDash": [5, 3]}, "encoding": {"y2": {"field": "t2"}}},
     {"data": {"values": [{"w": 1422, "t": 67.5, "w2": 1500, "t2": 64.6}]}, "mark": {"type": "rule", "color": "#0000ff", "strokeWidth": 1.2}, "encoding": {"x2": {"field": "w2"}, "y2": {"field": "t2"}}},
     {"data": {"values": [{"w": 1503, "t": 64.4}]}, "mark": {"type": "point", "shape": "triangle-up", "filled": true, "color": "#0000ff", "size": 45, "opacity": 1, "angle": 223}},
     {"data": {"values": [{"w": 1309, "t": 68.9, "txt": "1511"}]}, "mark": {"type": "text", "fontSize": 18, "color": "#0000ff"}, "encoding": {"text": {"field": "txt"}}}
    ]
   },
   {"data": {"values": [{"t": 0}]}, "mark": {"type": "point", "opacity": 0},
    "encoding": {"y": {"field": "t", "type": "quantitative", "scale": {"domain": [0, 100], "nice": false, "zero": false}, "axis": {"orient": "right", "values": [14.2857, 28.5714, 42.8571, 57.1429, 71.4286, 85.7143], "labels": false, "ticks": true, "tickSize": -8, "domain": false, "title": null}}}}
  ]
 },
 {
  "spacing": 2,
  "resolve": {"scale": {"color": "independent"}},
  "vconcat": [
   {
    "width": 614, "height": 496,
    "encoding": {
     "x": {"field": "w", "type": "quantitative", "scale": {"domain": [500, 4000], "reverse": true, "nice": false, "zero": false}, "axis": {"values": [4000,3750,3500,3250,3000,2750,2500,2250,2000,1750,1500,1250,1000,750,500], "format": "d", "labelExpr": "datum.value % 500 === 0 ? datum.label : ''", "tickSize": {"condition": {"test": "datum.value % 500 === 0", "value": 7}, "value": 4}, "labelFlush": false, "labelOverlap": false, "labelPadding": 4, "title": "Wavenumber (cm⁻¹)", "titlePadding": 4}},
     "y": {"field": "t", "type": "quantitative", "scale": {"domain": [0, 100], "nice": false, "zero": false}, "axis": {"labels": false, "ticks": false, "domain": false, "title": "Transmittance(%)", "titlePadding": 10, "titleY": 229}}
    },
    "layer": [
     {"data": {"name": "b"}, "mark": {"type": "line", "strokeWidth": 1.8},
      "encoding": {"color": {"field": "s", "type": "nominal", "scale": {"domain": ["L", "EL", "TA", "ER"], "range": ["black", "#ff0000", "#0000ff", "#177217"]}, "legend": null}}},
     {"data": {"values": [{"w": 3555, "w2": 3099, "t": 93.3, "t2": 47.6}, {"w": 3067, "w2": 2806, "t": 92, "t2": 23.6}]}, "mark": {"type": "rect", "fillOpacity": 0, "stroke": "black", "strokeWidth": 1.2, "strokeDash": [7, 3, 2, 3]}, "encoding": {"x2": {"field": "w2"}, "y2": {"field": "t2"}}},
     {"data": {"values": [{"w": 4148, "t": 96.6, "txt": "(b)"}]}, "mark": {"type": "text", "fontSize": 23, "color": "black"}, "encoding": {"text": {"field": "txt"}}},
     {"data": {"values": [{"w": 3893, "t": 95.4, "txt": "L"}]}, "mark": {"type": "text", "fontSize": 25, "color": "black"}, "encoding": {"text": {"field": "txt"}}},
     {"data": {"values": [{"w": 3869, "t": 76.2, "txt": "EL"}]}, "mark": {"type": "text", "fontSize": 25, "color": "#ff0000"}, "encoding": {"text": {"field": "txt"}}},
     {"data": {"values": [{"w": 3869, "t": 64.7, "txt": "TA"}]}, "mark": {"type": "text", "fontSize": 25, "color": "#0000ff"}, "encoding": {"text": {"field": "txt"}}},
     {"data": {"values": [{"w": 3869, "t": 38.7, "txt": "ER"}]}, "mark": {"type": "text", "fontSize": 25, "color": "#177217"}, "encoding": {"text": {"field": "txt"}}},
     {"data": {"values": [{"w": 3310, "t": 59.9, "txt": "νOH"}, {"w": 2929, "t": 21, "txt": "CH₂ or CH₃"}]}, "mark": {"type": "text", "fontSize": 25, "color": "black"}, "encoding": {"text": {"field": "txt"}}},
     {"data": {"values": [{"w": 1258, "t": 63.1, "txt": "1258"}, {"w": 891, "t": 65.2, "txt": "885"}, {"w": 740, "t": 66.9, "txt": "820"}]}, "mark": {"type": "text", "fontSize": 17, "color": "black"}, "encoding": {"text": {"field": "txt"}}},
     {"data": {"values": [{"w": 1948, "t": 52, "txt": "C=O"}, {"w": 1042, "t": 8.6, "txt": "Epoxy"}]}, "mark": {"type": "text", "fontSize": 21, "color": "black"}, "encoding": {"text": {"field": "txt"}}},
     {"data": {"values": [{"w": 1955, "t": 48.5, "txt": "1695"}, {"w": 1042, "t": 4.4, "txt": "913"}]}, "mark": {"type": "text", "fontSize": 16, "color": "black"}, "encoding": {"text": {"field": "txt"}}},
     {"data": {"values": [{"w": 1258, "t": 64.4, "w2": 1258, "t2": 68}, {"w": 882, "t": 66.7, "w2": 882, "t2": 70.8}, {"w": 759, "t": 69, "w2": 812, "t2": 71.6}, {"w": 1816, "t": 50.6, "w2": 1745, "t2": 48.1}, {"w": 967, "t": 10.9, "w2": 921, "t2": 18.6}]}, "mark": {"type": "rule", "color": "black", "strokeWidth": 1}, "encoding": {"x2": {"field": "w2"}, "y2": {"field": "t2"}}},
     {"data": {"values": [{"w": 1258, "t": 68.6}, {"w": 882, "t": 71.4}]}, "mark": {"type": "point", "shape": "triangle-up", "filled": true, "color": "black", "size": 35, "opacity": 1}},
     {"data": {"values": [{"w": 816, "t": 71.9}]}, "mark": {"type": "point", "shape": "triangle-up", "filled": true, "color": "black", "size": 35, "opacity": 1, "angle": 325}},
     {"data": {"values": [{"w": 1740, "t": 47.8}]}, "mark": {"type": "point", "shape": "triangle-up", "filled": true, "color": "black", "size": 35, "opacity": 1, "angle": 136}},
     {"data": {"values": [{"w": 920, "t": 19.2}]}, "mark": {"type": "point", "shape": "triangle-up", "filled": true, "color": "black", "size": 35, "opacity": 1, "angle": 12}}
    ]
   },
   {
    "width": 614, "height": 497,
    "encoding": {
     "x": {"field": "w", "type": "quantitative", "scale": {"domain": [500, 4000], "reverse": true, "nice": false, "zero": false}, "axis": {"values": [4000,3750,3500,3250,3000,2750,2500,2250,2000,1750,1500,1250,1000,750,500], "format": "d", "labelExpr": "datum.value % 500 === 0 ? datum.label : ''", "tickSize": {"condition": {"test": "datum.value % 500 === 0", "value": 7}, "value": 4}, "labelFlush": false, "labelOverlap": false, "labelPadding": 4, "title": "Wavenumber (cm⁻¹)", "titlePadding": 9}},
     "y": {"field": "t", "type": "quantitative", "scale": {"domain": [0, 100], "nice": false, "zero": false}, "axis": {"labels": false, "ticks": false, "domain": false, "title": "Transmittance(%)", "titlePadding": 10, "titleY": 236}}
    },
    "layer": [
     {"data": {"name": "c"}, "mark": {"type": "line", "strokeWidth": 1.8},
      "encoding": {"color": {"field": "s", "type": "nominal", "scale": {"domain": ["ER-AH", "ER-TA", "ER-AH-L10", "ER-TA-L10", "ER-AH-EL10", "ER-TA-EL10"], "range": ["black", "#ff0000", "#0000ff", "#168016", "#a020f0", "#ff8c00"]}, "legend": null}}},
     {"data": {"values": [{"w": 3560, "w2": 3100, "t": 60.2, "t2": 9.2}, {"w": 3012, "w2": 2750, "t": 89.2, "t2": 11.4}]}, "mark": {"type": "rect", "fillOpacity": 0, "stroke": "black", "strokeWidth": 1.2, "strokeDash": [7, 3, 2, 3]}, "encoding": {"x2": {"field": "w2"}, "y2": {"field": "t2"}}},
     {"data": {"values": [{"w": 1722, "t": 11.1, "t2": 73.9}]}, "mark": {"type": "rule", "color": "black", "strokeWidth": 1, "strokeDash": [6, 2, 1.5, 2]}, "encoding": {"y2": {"field": "t2"}}},
     {"data": {"values": [{"w": 4138, "t": 96.4, "txt": "(c)"}]}, "mark": {"type": "text", "fontSize": 23, "color": "black"}, "encoding": {"text": {"field": "txt"}}},
     {"data": {"values": [{"w": 2226, "t": 92, "txt": "ER-AH"}, {"w": 2230, "t": 74.1, "txt": "ER-TA"}, {"w": 2213, "t": 60.9, "txt": "ER-AH-L10"}, {"w": 2216, "t": 50.2, "txt": "ER-TA-L10"}, {"w": 2226, "t": 36.3, "txt": "ER-AH-EL10"}, {"w": 2237, "t": 24.3, "txt": "ER-TA-EL10"}, {"w": 3340, "t": 13.5, "txt": "νOH"}, {"w": 2700, "t": 6.6, "txt": "CH₂ or CH₃"}]}, "mark": {"type": "text", "fontSize": 25, "color": "black"}, "encoding": {"text": {"field": "txt"}}},
     {"data": {"values": [{"w": 1755, "t": 8.3, "txt": "C=O"}]}, "mark": {"type": "text", "fontSize": 21, "color": "black"}, "encoding": {"text": {"field": "txt"}}},
     {"data": {"values": [{"w": 1760, "t": 4.9, "txt": "1720"}]}, "mark": {"type": "text", "fontSize": 15, "color": "black"}, "encoding": {"text": {"field": "txt"}}}
    ]
   }
  ]
 }
]
}
